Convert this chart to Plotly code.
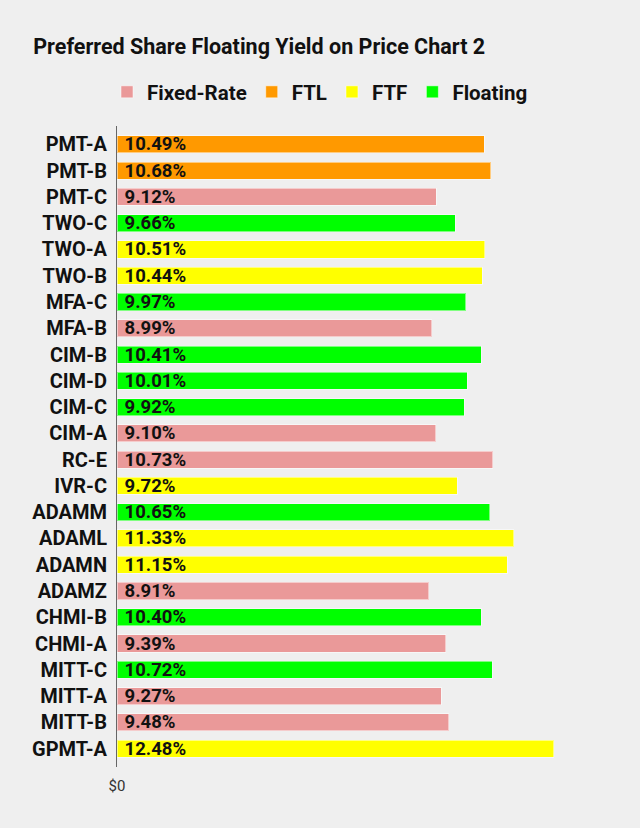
import plotly.graph_objects as go

tickers = ["PMT-A", "PMT-B", "PMT-C", "TWO-C", "TWO-A", "TWO-B", "MFA-C", "MFA-B",
           "CIM-B", "CIM-D", "CIM-C", "CIM-A", "RC-E", "IVR-C", "ADAMM", "ADAML",
           "ADAMN", "ADAMZ", "CHMI-B", "CHMI-A", "MITT-C", "MITT-A", "MITT-B", "GPMT-A"]
yields = [10.49, 10.68, 9.12, 9.66, 10.51, 10.44, 9.97, 8.99,
          10.41, 10.01, 9.92, 9.10, 10.73, 9.72, 10.65, 11.33,
          11.15, 8.91, 10.40, 9.39, 10.72, 9.27, 9.48, 12.48]
kinds = ["FTL", "FTL", "Fixed-Rate", "Floating", "FTF", "FTF", "Floating", "Fixed-Rate",
         "Floating", "Floating", "Floating", "Fixed-Rate", "Fixed-Rate", "FTF", "Floating", "FTF",
         "FTF", "Fixed-Rate", "Floating", "Fixed-Rate", "Floating", "Fixed-Rate", "Fixed-Rate", "FTF"]

kind_order = ["Fixed-Rate", "FTL", "FTF", "Floating"]
kind_colors = {"Fixed-Rate": "#ea9999", "FTL": "#ff9900", "FTF": "#ffff00", "Floating": "#00ff00"}

font = "Roboto"
bg = "#efefef"

fig = go.Figure()
for k in kind_order:
    ys = [t for t, c in zip(tickers, kinds) if c == k]
    xs = [v for v, c in zip(yields, kinds) if c == k]
    fig.add_trace(go.Bar(
        x=xs, y=ys, orientation="h", name=k,
        marker=dict(color=kind_colors[k], line=dict(color="rgba(255,255,255,0.5)", width=1)),
        text=[f" {v:.2f}%" for v in xs],
        textposition="inside", insidetextanchor="start",
        textfont=dict(family=font, size=18.5, color="#111111", weight="bold"),
        constraintext="none",
        hoverinfo="skip",
    ))

n = len(tickers)
fig.update_layout(
    width=640, height=828,
    paper_bgcolor=bg, plot_bgcolor=bg,
    margin=dict(l=117, r=33, t=126, b=61),
    barmode="stack", bargap=0.35,
    uniformtext=dict(minsize=18.5, mode="show"),
    title=dict(text="<b>Preferred Share Floating Yield on Price Chart 2</b>",
               font=dict(family=font, size=21.5, color="#111111"),
               x=0.052, xref="container", xanchor="left",
               y=1 - 46 / 828, yref="container", yanchor="middle"),
    legend=dict(orientation="h", traceorder="normal",
                x=0.5, xref="container", xanchor="center",
                y=1 - 92 / 828, yref="container", yanchor="middle",
                font=dict(family=font, size=20.5, color="#111111", weight="bold"),
                itemwidth=30, bgcolor="rgba(0,0,0,0)"),
    showlegend=True,
)
fig.update_xaxes(range=[0, 14], tickvals=[0], ticktext=["$0"], showgrid=False, zeroline=False,
                 showline=False, tickfont=dict(family=font, size=15, color="#333333"),
                 ticklabelstandoff=8, fixedrange=True)
fig.update_yaxes(categoryorder="array", categoryarray=tickers, range=[n - 0.3, -0.7],
                 showgrid=False, zeroline=False, showline=True, linecolor="#666666", linewidth=1,
                 tickfont=dict(family=font, size=20, color="#111111", weight="bold"),
                 ticks="", ticklabelstandoff=5)

fig.write_html("out.html", config={"displayModeBar": False},
               post_script="document.body.style.margin='0';")
